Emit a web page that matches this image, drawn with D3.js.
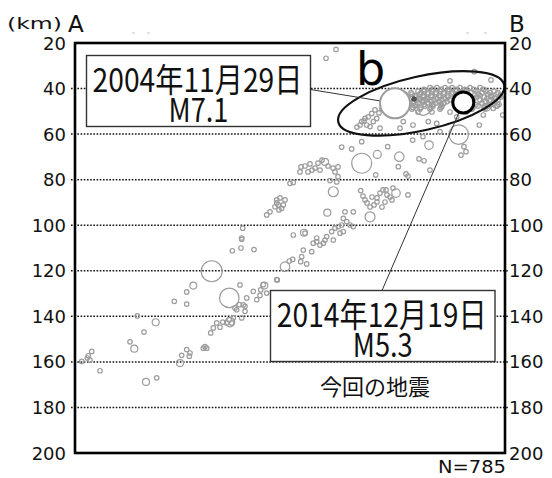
<!DOCTYPE html>
<html><head><meta charset="utf-8">
<script src="https://cdn.jsdelivr.net/npm/d3@7"></script>
<style>body{margin:0;background:#fff}svg{display:block}</style>
</head><body>
<svg id="c" width="552" height="478"></svg>
<script>
// ---------- data ----------
const depthTicks = [20,40,60,80,100,120,140,160,180,200];
const gridDepths = [40,60,80,100,120,140,160,180];
// hypocenters: [distance along A-B, depth km, magnitude]
const slabDeep = [[6.7,159.8,2],[13.3,157.3,2],[12.3,158.3,2],[16.7,155.4,2],[15,159.2,2],[25,163.9,2],[55,151.2,2],[59.3,154.2,2.5],[62.3,139.8,2],[69,146.9,2],[80.7,142.6,2.5],[71,168.8,2.5],[81.7,167.0,2]];
const slabLower = [[99.3,133.4,2],[111.7,129.3,2],[111.7,134.6,2],[118.3,126.5,2.5],[136.7,120.2,5.3],[154.3,131.9,5.0],[105,160.5,2.5],[106.7,157.1,2],[111.7,154.6,2],[115,156.1,2],[114.3,157.5,2],[130,153.3,2],[128.3,154.0,2],[131.7,154.0,2],[135.7,147.3,2],[138.3,145.1,2],[141.7,142.9,2],[145,144.8,2],[147.7,142.5,2],[151.7,142.9,2],[154.3,141.5,2],[158.3,140.7,2],[156.7,142.9,2],[155,142.5,3],[161.7,137.1,2],[164.3,134.9,2],[160,136.3,2],[170,135.6,2],[170,137.8,2],[166.7,140.7,2],[171.7,131.9,2],[181.7,132.7,2],[185,130.8,2],[188.3,126.1,2],[191.7,129.8,2],[178.3,129.0,2],[201.7,123.9,2],[165,126.2,2],[189.3,126.5,2.5],[185.7,128.4,2],[157.3,111.2,2],[166,110.0,2],[179,110.7,2],[166.7,106.2,2],[210,118.2,3],[214.3,115.7,2],[217.7,115.0,2],[225.7,116.0,2],[231.7,117.0,2],[226.7,113.8,2],[228.3,110.9,2],[236.7,111.6,2],[202.3,124.0,2],[168.3,135.0,2]];
const slabMiddle = [[201.7,88.9,2],[205,88.0,2],[200,91.9,2],[203.3,91.1,2],[206.7,92.6,2],[210,88.9,2],[204,93.3,2],[195,94.1,2],[191.7,95.5,2],[201.7,90.2,2],[208.3,91.1,2],[167.7,101.3,2],[166.7,105.6,2],[252.3,94.5,2.5],[270,94.1,2],[278.3,94.1,2],[268.3,97.0,2],[271.7,98.4,2],[266.7,99.9,2],[263.3,100.6,2],[260,101.3,2],[256.7,102.8,2],[268.3,102.8,2],[275,99.9,2],[278.3,100.6,2],[265,103.5,2],[251.7,105.0,2],[258.3,106.5,2],[218.3,104.3,2],[229,103.3,2.5],[248.3,107.9,2],[245,108.7,2],[241.7,107.2,2],[250,106.5,2],[238.3,107.9,2],[241.7,105.6,2],[230,103.5,2]];
const slabUpper = [[226,74.4,2],[230,74.0,2],[235,73.1,2],[240,74.9,2],[243,72.7,2],[247,71.4,2],[250,72.2,2.5],[253,74.0,2],[258,74.9,2],[245,75.8,2],[237,75.8,2],[263,74.4,2],[260,76.6,2],[225,76.6,2],[233,76.6,2],[286.7,72.8,5.1],[266.7,65.7,2],[276.7,66.5,2],[286.7,63.3,2],[302.3,68.9,2.7],[312.7,65.5,2],[324.3,69.9,3],[323.3,74.3,2],[337.7,62.6,2],[348,61.1,2],[354,64.8,2.8],[344,70.9,2],[349,71.7,2],[355,75.8,2],[300.7,77.9,2],[331,77.5,2],[333,78.4,2],[263,78.7,2],[261.7,81.0,2],[255,80.4,2],[215,81.6,2],[218.3,81.2,2],[258.3,85.3,3.1],[285.7,84.8,2],[288,87.2,2],[290,88.9,2],[292,90.2,2],[295,92.0,2],[299,91.1,2],[302,88.0,2],[305,85.9,2],[308,84.5,2],[312,86.7,2],[315,87.6,2],[318,83.7,2],[321,85.9,2.8],[317,88.9,2],[310,89.8,2],[307,92.0,2],[302,89.8,2],[297,87.6,2],[311,84.5,2],[333,86.7,2],[295,96.3,3.1],[383.7,60.2,5.0],[391,67.7,2],[386,69.2,2],[389,65.5,2],[404.3,56.0,2],[427.7,51.6,2],[365,58.9,2]];
const slabTop = [[251,26.7,2],[261,22.8,2],[375,36.6,2],[416,36.2,2],[399.3,32.6,2],[353.3,54.5,2],[338,56.0,2],[361.7,55.3,2],[381.7,52.4,2],[408.3,51.6,2],[418.3,48.7,2],[348,48.0,4.5],[325,57.4,2],[305,57.4,2],[328.3,54.5,2],[286.7,54.5,2],[290,53.1,2],[293.3,52.4,2],[296.7,50.9,2],[300,49.4,2],[285,56.0,2],[291.7,56.0,2],[298.3,54.5,2],[295,56.7,2],[301.7,53.1,2],[304,50.7,2],[307,49.0,2],[282,56.9,2],[289,54.2,2],[403,44.8,2.6],[415,44.8,2.6],[411.7,48.2,2.6],[421,47.0,2.6]];
// dense cluster at the top of the slab (rows of equal depth)
const clusterDepths = [39.6,40.4,41.1,41.8,42.4,43.1,43.7,44.4,45.0,45.7,46.3,47.0,47.7,48.3,49.0,50.3];
const clusterDists = [
  [355,362,370,377,385,395,405],
  [349,358,366,374,381,390,399,409],
  [343,349,357,365,373,381,391,401,411,419],
  [336,346,353,361,369,378,386,396,407,415,423],
  [330,337,345,353,361,369,377,403,413,422],
  [329,340,348,356,364,372,380,405,416,425],
  [327,333,341,349,357,365,373,401,409,417,426],
  [326,336,344,352,362,370,399,412,420],
  [325,331,345,351,359,367,375,405,415,423],
  [329,338,348,356,364,372,410,419],
  [328,335,343,353,361,369,407,419],
  [333,341,349,358,366,401,414,424],
  [332,340,350,358,367,403,413,422],
  [338,346,356,366,398,409],
  [337,345,355,365,397,410],
  [343,357,375,391]
];
const eq2004 = {dist:320, depth:46.5, mag:7.1, date:"2004年11月29日", label:"M7.1"};
const eq2014 = {dist:388.3, depth:46.1, mag:5.3, date:"2014年12月19日", label:"M5.3"};
const darkEvent = [339, 44.6];
const zoneCenter = [346.2, 46.5];

// ---------- drawing ----------
const svg = d3.select("#c");
const x = d3.scaleLinear().domain([0,430]).range([75,505]);
const y = d3.scaleLinear().domain([20,200]).range([43,453]);
const r = d3.scaleLinear().domain([2,7.1]).range([2.25,15]);

// squeeze/stretch a text horizontally to a target width (keeps a true bbox)
function fitText(px, py, anchor, family, size, width, str, fill){
  const t = svg.append("text").attr("text-anchor",anchor).attr("font-family",family)
    .attr("font-size",size).attr("fill",fill||"#111").text(str);
  const len = t.node().getComputedTextLength();
  t.attr("transform",`translate(${px},${py}) scale(${width/len},1)`);
  return t;
}

// tiny faint marks above frame
[[132,135],[147,150],[466,469],[484,487]].forEach(s=>{
  svg.append("line").attr("x1",s[0]).attr("x2",s[1]).attr("y1",33).attr("y2",33)
    .attr("stroke","#c8c8c8").attr("stroke-width",1);
});

// grid
svg.append("g").selectAll("line").data(gridDepths).join("line")
  .attr("x1",x(0)-4).attr("x2",x(430)+3)
  .attr("y1",d=>y(d)).attr("y2",d=>y(d))
  .attr("stroke","#111").attr("stroke-width",1.5).attr("stroke-dasharray","1.6,1.6");

// axes labels
const lf = "DejaVu Sans, sans-serif";
svg.append("g").selectAll("text").data(depthTicks).join("text")
  .attr("x",66).attr("y",d=>y(d)).attr("text-anchor","end").attr("dominant-baseline","central")
  .attr("font-family",lf).attr("font-size",18).attr("fill","#111").text(d=>d);
svg.append("g").selectAll("text").data(depthTicks).join("text")
  .attr("x",509).attr("y",d=>y(d)).attr("text-anchor","start").attr("dominant-baseline","central")
  .attr("font-family",lf).attr("font-size",18).attr("fill","#111").text(d=>d);

// points
const all = [].concat(slabDeep, slabLower, slabMiddle, slabUpper, slabTop);
clusterDepths.forEach((dep,i)=>clusterDists[i].forEach(dd=>all.push([dd,dep,2])));
svg.append("g").selectAll("circle").data(all).join("circle")
  .attr("cx",d=>x(d[0])).attr("cy",d=>y(d[1])).attr("r",d=>r(d[2]))
  .attr("fill","none").attr("stroke","#9c9c9c").attr("stroke-width",1.2);

// zone ellipse
svg.append("ellipse")
  .attr("cx",0).attr("cy",0).attr("rx",85).attr("ry",27)
  .attr("transform",`translate(${x(zoneCenter[0])},${y(zoneCenter[1])}) rotate(-12.6)`)
  .attr("fill","none").attr("stroke","#111").attr("stroke-width",2.2);

// boxes
const box1 = {x:86.5,y:55.5,w:224,h:71};
const box2 = {x:270.5,y:290.5,w:224.5,h:71};
// leader lines
svg.append("line").attr("x1",box1.x+box1.w).attr("y1",89.5)
  .attr("x2",x(eq2004.dist)).attr("y2",y(eq2004.depth)).attr("stroke","#333").attr("stroke-width",1);
svg.append("line").attr("x1",382).attr("y1",box2.y)
  .attr("x2",x(eq2014.dist)).attr("y2",y(eq2014.depth)).attr("stroke","#333").attr("stroke-width",1);

// dark event
svg.append("circle").attr("cx",x(darkEvent[0])).attr("cy",y(darkEvent[1])).attr("r",2.3)
  .attr("fill","#555").attr("stroke","#444");

// main events
svg.append("circle").attr("cx",x(eq2004.dist)).attr("cy",y(eq2004.depth)).attr("r",r(eq2004.mag))
  .attr("fill","#fff").attr("stroke","#9c9c9c").attr("stroke-width",2);
svg.append("circle").attr("cx",x(eq2014.dist)).attr("cy",y(eq2014.depth)).attr("r",r(eq2014.mag))
  .attr("fill","#fff").attr("stroke","#000").attr("stroke-width",3);

[box1,box2].forEach(b=>{
  svg.append("rect").attr("x",b.x).attr("y",b.y).attr("width",b.w).attr("height",b.h)
    .attr("fill","#fff").attr("stroke","#333").attr("stroke-width",1.4);
});
const jf = "Noto Sans CJK JP, sans-serif";
function boxText(b, ev){
  fitText(b.x+b.w/2-1, b.y+36, "middle", jf, 33, 210, ev.date);
  fitText(b.x+b.w/2, b.y+66, "middle", jf, 33, 60, ev.label);
}
boxText(box1, eq2004);
boxText(box2, eq2014);

svg.append("text").attr("x",375).attr("y",395).attr("text-anchor","middle")
  .attr("font-family",jf).attr("font-size",22).attr("fill","#111").text("今回の地震");

svg.append("text").attr("x",356).attr("y",85).attr("font-family",lf).attr("font-size",46)
  .attr("fill","#000").text("b");

// frame
svg.append("rect").attr("x",75).attr("y",43).attr("width",430).attr("height",410)
  .attr("fill","none").attr("stroke","#000").attr("stroke-width",2.6);

fitText(506, 473, "end", lf, 18, 68, "N=785");
fitText(7, 29, "start", lf, 16, 55, "(km)");
svg.append("text").attr("x",68).attr("y",31.5).attr("font-family",lf).attr("font-size",23).attr("fill","#111").text("A");
svg.append("text").attr("x",509).attr("y",31.5).attr("font-family",lf).attr("font-size",23).attr("fill","#111").text("B");
</script>
</body></html>
